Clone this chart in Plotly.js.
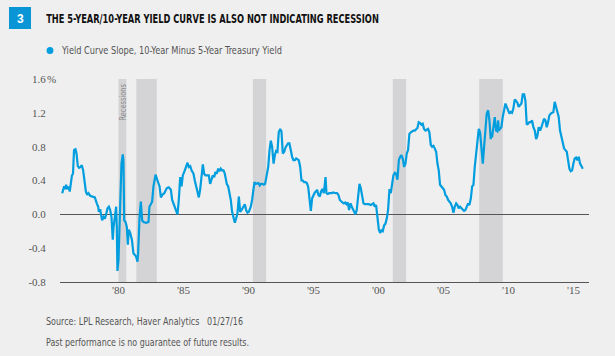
<!DOCTYPE html>
<html>
<head>
<meta charset="utf-8">
<script src="https://cdn.plot.ly/plotly-3.0.1.min.js"></script>
<style>
html,body{margin:0;padding:0;background:#efefef;}
#chart{width:615px;height:356px;}
</style>
</head>
<body>
<div id="chart"></div>
<script>
// ---- data ----
var years = [1975.67,1975.75,1975.82,1975.90,1975.97,1976.05,1976.15,1976.25,1976.33,1976.42,1976.50,1976.58,1976.69,1976.77,1976.87,1976.97,1977.08,1977.18,1977.28,1977.38,1977.49,1977.59,1977.69,1977.82,1977.97,1978.18,1978.33,1978.44,1978.49,1978.59,1978.69,1978.74,1978.85,1978.95,1979.05,1979.15,1979.26,1979.36,1979.46,1979.56,1979.62,1979.72,1979.82,1979.87,1979.92,1980.00,1980.13,1980.23,1980.33,1980.38,1980.44,1980.54,1980.64,1980.72,1980.79,1980.90,1981.03,1981.15,1981.26,1981.36,1981.46,1981.51,1981.62,1981.72,1981.82,1981.92,1982.13,1982.31,1982.38,1982.49,1982.59,1982.69,1982.85,1983.00,1983.16,1983.26,1983.36,1983.52,1983.72,1983.87,1984.03,1984.13,1984.28,1984.44,1984.54,1984.64,1984.75,1984.85,1984.95,1985.10,1985.21,1985.31,1985.41,1985.52,1985.62,1985.77,1985.87,1986.03,1986.18,1986.28,1986.39,1986.49,1986.59,1986.69,1986.85,1986.95,1987.05,1987.15,1987.26,1987.36,1987.46,1987.56,1987.67,1987.77,1987.87,1987.97,1988.08,1988.18,1988.33,1988.44,1988.54,1988.64,1988.74,1988.85,1988.95,1989.05,1989.15,1989.26,1989.36,1989.46,1989.62,1989.72,1989.82,1989.92,1990.03,1990.18,1990.28,1990.38,1990.46,1990.56,1990.67,1990.77,1990.87,1990.97,1991.08,1991.18,1991.28,1991.41,1991.52,1991.62,1991.72,1991.82,1991.93,1992.03,1992.13,1992.23,1992.33,1992.44,1992.54,1992.64,1992.75,1992.85,1992.95,1993.05,1993.15,1993.26,1993.36,1993.46,1993.57,1993.67,1993.77,1993.87,1993.98,1994.08,1994.18,1994.28,1994.39,1994.49,1994.59,1994.69,1994.80,1994.90,1994.98,1995.08,1995.18,1995.28,1995.38,1995.49,1995.59,1995.69,1995.80,1995.93,1996.00,1996.10,1996.21,1996.31,1996.41,1996.51,1996.62,1996.72,1996.82,1996.92,1997.03,1997.13,1997.23,1997.33,1997.44,1997.54,1997.64,1997.74,1997.85,1997.95,1998.05,1998.15,1998.23,1998.33,1998.44,1998.54,1998.64,1998.74,1998.85,1998.95,1999.10,1999.26,1999.41,1999.51,1999.62,1999.72,1999.82,1999.92,2000.03,2000.13,2000.23,2000.33,2000.44,2000.54,2000.64,2000.74,2000.85,2000.95,2001.05,2001.15,2001.26,2001.36,2001.46,2001.57,2001.67,2001.77,2001.87,2001.98,2002.08,2002.18,2002.28,2002.38,2002.49,2002.59,2002.69,2002.80,2002.90,2003.00,2003.10,2003.21,2003.31,2003.41,2003.51,2003.62,2003.72,2003.82,2003.92,2004.03,2004.13,2004.23,2004.33,2004.44,2004.54,2004.64,2004.74,2004.85,2004.95,2005.05,2005.15,2005.26,2005.36,2005.46,2005.56,2005.67,2005.77,2005.87,2005.98,2006.08,2006.18,2006.28,2006.38,2006.49,2006.59,2006.69,2006.79,2006.90,2007.00,2007.11,2007.21,2007.31,2007.41,2007.51,2007.62,2007.72,2007.82,2007.92,2008.03,2008.13,2008.23,2008.33,2008.44,2008.54,2008.64,2008.69,2008.74,2008.85,2008.95,2009.05,2009.15,2009.21,2009.26,2009.36,2009.46,2009.56,2009.67,2009.77,2009.87,2009.98,2010.08,2010.18,2010.28,2010.38,2010.49,2010.59,2010.69,2010.79,2010.90,2011.00,2011.10,2011.21,2011.31,2011.36,2011.41,2011.51,2011.62,2011.72,2011.82,2011.92,2012.03,2012.13,2012.23,2012.33,2012.44,2012.54,2012.64,2012.74,2012.85,2012.95,2013.05,2013.15,2013.26,2013.36,2013.46,2013.56,2013.67,2013.77,2013.87,2013.97,2014.08,2014.18,2014.28,2014.38,2014.49,2014.59,2014.69,2014.79,2014.90,2015.00,2015.10,2015.21,2015.31,2015.41,2015.51,2015.62,2015.72,2015.82,2015.87];
var slope = [0.25,0.30,0.33,0.30,0.35,0.30,0.33,0.27,0.38,0.46,0.48,0.76,0.77,0.72,0.57,0.55,0.56,0.58,0.52,0.40,0.27,0.23,0.25,0.22,0.21,0.20,0.13,0.09,0.03,0.06,-0.03,-0.07,-0.03,-0.05,0.00,0.07,0.09,0.05,-0.03,-0.30,-0.15,-0.03,0.09,-0.15,-0.67,-0.54,0.25,0.60,0.71,0.64,-0.07,-0.09,-0.15,-0.36,-0.18,-0.22,-0.30,-0.46,-0.48,-0.50,-0.56,-0.46,-0.03,0.15,-0.07,-0.09,-0.10,-0.09,0.09,0.13,0.15,0.33,0.47,0.40,0.33,0.20,0.23,0.25,0.31,0.32,0.29,0.17,0.11,0.03,0.00,0.17,0.44,0.33,0.46,0.52,0.56,0.61,0.56,0.57,0.52,0.48,0.40,0.29,0.20,0.29,0.44,0.59,0.48,0.46,0.46,0.46,0.36,0.40,0.46,0.44,0.50,0.48,0.54,0.51,0.54,0.52,0.52,0.48,0.36,0.33,0.25,0.17,0.03,-0.05,-0.10,-0.05,0.01,0.21,0.03,0.05,0.09,0.12,0.05,0.02,0.03,0.09,0.17,0.33,0.38,0.36,0.37,0.37,0.34,0.36,0.36,0.35,0.36,0.48,0.56,0.76,0.87,0.80,0.60,0.70,0.75,0.74,0.97,1.01,0.98,0.72,0.74,0.79,0.82,0.84,0.84,0.74,0.68,0.64,0.64,0.66,0.65,0.64,0.56,0.40,0.40,0.38,0.38,0.37,0.33,0.17,0.04,0.19,0.23,0.25,0.27,0.29,0.23,0.21,0.27,0.30,0.25,0.44,0.25,0.24,0.25,0.25,0.25,0.26,0.25,0.25,0.25,0.23,0.17,0.15,0.14,0.13,0.14,0.12,0.14,0.05,0.13,0.09,0.05,0.03,0.00,0.05,0.21,0.36,0.31,0.21,0.13,0.12,0.12,0.12,0.11,0.12,0.13,0.09,0.11,-0.03,-0.18,-0.22,-0.19,-0.20,-0.13,-0.11,-0.05,0.05,0.30,0.25,0.35,0.46,0.49,0.48,0.41,0.64,0.68,0.70,0.66,0.56,0.60,0.72,0.76,0.95,0.97,0.98,0.99,0.99,1.00,1.02,1.09,1.08,1.06,1.07,1.01,0.99,1.00,1.01,0.97,0.82,0.80,0.81,0.78,0.74,0.60,0.52,0.35,0.33,0.31,0.29,0.23,0.21,0.17,0.15,0.13,0.09,0.02,0.09,0.13,0.11,0.07,0.09,0.07,0.05,0.04,0.05,0.09,0.13,0.11,0.19,0.33,0.35,0.56,0.72,0.87,1.01,0.97,0.75,0.60,0.80,1.01,1.19,1.23,1.11,0.89,0.93,0.91,1.03,1.15,0.99,0.98,1.11,0.99,1.01,1.03,1.15,1.25,1.31,1.27,1.23,1.19,1.21,1.20,1.25,1.36,1.34,1.32,1.27,1.29,1.31,1.42,1.42,1.34,1.11,1.06,1.07,1.09,1.09,1.11,1.03,0.99,0.89,0.93,1.03,0.99,1.03,1.09,1.13,1.11,1.03,1.09,1.17,1.19,1.20,1.21,1.33,1.27,1.19,1.15,0.99,0.93,0.85,0.78,0.76,0.74,0.64,0.54,0.51,0.52,0.60,0.66,0.67,0.64,0.68,0.60,0.57,0.54];
var recessionStart = [1980.0, 1981.37, 1990.34, 2001.1, 2007.75];
var recessionEnd   = [1980.6, 1982.95, 1991.36, 2002.13, 2009.57];
var xTickVals = [1980,1985,1990,1995,2000,2005,2010,2015];
var xTickText = ["'80","'85","'90","'95","'00","'05","'10","'15"];
var yTickVals = [-0.8,-0.4,0,0.4,0.8,1.2,1.6];
var yTickText = ["-0.8","-0.4","0.0","0.4","0.8","1.2","1.6"];
var seriesName = "Yield Curve Slope, 10-Year Minus 5-Year Treasury Yield";
var chartTitle = "THE 5-YEAR/10-YEAR YIELD CURVE IS ALSO NOT INDICATING RECESSION";
var chartNumber = "3";
var sourceText = "Source: LPL Research, Haver Analytics&nbsp;&nbsp;&nbsp;01/27/16";
var disclaimer = "Past performance is no guarantee of future results.";

// ---- layout helpers (pixel -> paper) ----
var M = {l:60, r:26, t:79, b:74};
var W = 615, H = 356;
var PW = W - M.l - M.r, PH = H - M.t - M.b;
function PX(x){ return (x - M.l) / PW; }
function PY(y){ return (H - M.b - y) / PH; }

var COND = "Liberation Sans Narrow, DejaVu Sans Condensed, Roboto, Liberation Sans, sans-serif";
var SERIF = "Liberation Serif, serif";
var BLUE = "#009ddf";

var shapes = [];
for (var i = 0; i < recessionStart.length; i++) {
  shapes.push({type:'rect', xref:'x', yref:'paper', x0:recessionStart[i], x1:recessionEnd[i], y0:0, y1:1,
    fillcolor:'#d4d4d6', line:{width:0}, layer:'below'});
}
shapes.push({type:'rect', xref:'paper', yref:'paper', x0:PX(9), x1:PX(31), y0:PY(29), y1:PY(7),
  fillcolor:'#0a96d6', line:{width:0}});
shapes.push({type:'circle', xref:'paper', yref:'paper', x0:PX(46.6), x1:PX(53.4), y0:PY(54), y1:PY(47),
  fillcolor:BLUE, line:{width:0}});

// target text widths (px) used to condense the sans text like the reference
var fitWidth = {1:333, 2:221, 3:37, 5:197, 6:203};

var annotations = [
  {xref:'paper', yref:'paper', x:PX(20), y:PY(18.5), text:'<b>'+chartNumber+'</b>', showarrow:false,
   xanchor:'center', yanchor:'middle', font:{family:"Liberation Sans, Arial, sans-serif", size:12, color:'#ffffff'}},
  {xref:'paper', yref:'paper', x:PX(44), y:PY(19), text:'<b>'+chartTitle+'</b>', showarrow:false,
   xanchor:'left', yanchor:'middle', font:{family:COND, size:12.5, color:'#111111'}},
  {xref:'paper', yref:'paper', x:PX(59), y:PY(50.5), text:seriesName, showarrow:false,
   xanchor:'left', yanchor:'middle', font:{family:COND, size:11, color:'#555555'}},
  {xref:'x', yref:'paper', x:1980.3, y:PY(101.5), text:'Recessions', showarrow:false, textangle:-90,
   xanchor:'center', yanchor:'middle', font:{family:COND, size:9.5, color:'#8a8a8a'}},
  {xref:'paper', yref:'y', x:PX(45), y:1.6, text:'%', showarrow:false,
   xanchor:'left', yanchor:'middle', font:{family:SERIF, size:11, color:'#555555'}},
  {xref:'paper', yref:'paper', x:PX(44), y:PY(321), text:sourceText, showarrow:false,
   xanchor:'left', yanchor:'middle', font:{family:COND, size:11, color:'#555555'}},
  {xref:'paper', yref:'paper', x:PX(44), y:PY(342), text:disclaimer, showarrow:false,
   xanchor:'left', yanchor:'middle', font:{family:COND, size:11, color:'#555555'}}
];

var trace = {
  x: years, y: slope, type:'scatter', mode:'lines', name: seriesName,
  line:{color:BLUE, width:2.2}, hoverinfo:'x+y'
};

var layout = {
  width:W, height:H,
  margin:M,
  paper_bgcolor:'#efefef', plot_bgcolor:'#efefef',
  showlegend:false,
  xaxis:{range:[1975.5, 2016.2], tickvals:xTickVals, ticktext:xTickText, showgrid:false, zeroline:false,
    showline:true, linecolor:'#555555', linewidth:1, ticks:'', ticklabelstandoff:-2,
    tickfont:{family:SERIF, size:11, color:'#555555'}, fixedrange:true},
  yaxis:{range:[-0.8, 1.6], tickvals:yTickVals, ticktext:yTickText, showgrid:false,
    zeroline:true, zerolinecolor:'#555555', zerolinewidth:1, showline:false,
    ticks:'outside', ticklen:11, tickcolor:'rgba(0,0,0,0)',
    tickfont:{family:SERIF, size:11, color:'#555555'}, fixedrange:true},
  shapes:shapes,
  annotations:annotations
};

Plotly.newPlot('chart', [trace], layout, {displayModeBar:false, staticPlot:true}).then(function(gd){
  var groups = gd.querySelectorAll('.annotation');
  groups.forEach(function(g){
    var idx = +g.getAttribute('data-index');
    if (!(idx in fitWidth)) return;
    var t = g.querySelector('text.annotation-text');
    if (!t) return;
    var bb = t.getBBox();
    var s = fitWidth[idx] / bb.width;
    if (Math.abs(s - 1) < 0.02) return;
    var ax = (idx === 3) ? (bb.x + bb.width/2) : bb.x;
    var ay = bb.y + bb.height/2;
    t.setAttribute('transform', 'translate(' + ax + ',' + ay + ') scale(' + s + ',1) translate(' + (-ax) + ',' + (-ay) + ')');
  });
});
</script>
</body>
</html>
